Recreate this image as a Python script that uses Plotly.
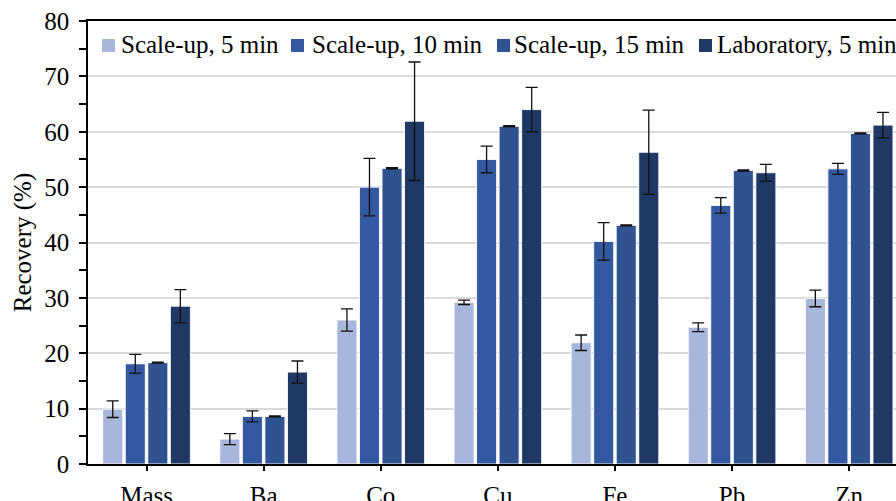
import plotly.graph_objects as go

categories = ["Mass", "Ba", "Co", "Cu", "Fe", "Pb", "Zn"]
series_names = ["Scale-up, 5 min", "Scale-up, 10 min", "Scale-up, 15 min", "Laboratory, 5 min"]

scaleup_5 = [9.9, 4.5, 26.0, 29.2, 21.9, 24.7, 29.9]
scaleup_5_err = [1.5, 1.0, 2.0, 0.4, 1.4, 0.8, 1.5]
scaleup_10 = [18.1, 8.6, 50.0, 55.0, 40.2, 46.7, 53.3]
scaleup_10_err = [1.7, 1.0, 5.2, 2.4, 3.4, 1.4, 1.0]
scaleup_15 = [18.3, 8.6, 53.4, 61.0, 43.1, 53.0, 59.7]
scaleup_15_err = [0.1, 0.1, 0.1, 0.1, 0.1, 0.1, 0.1]
laboratory_5 = [28.5, 16.6, 61.9, 64.0, 56.3, 52.6, 61.2]
laboratory_5_err = [3.0, 2.0, 10.7, 4.0, 7.6, 1.5, 2.3]

colors = ["#A9B6DB", "#3459A0", "#2F5290", "#203864"]
values = [scaleup_5, scaleup_10, scaleup_15, laboratory_5]
errors = [scaleup_5_err, scaleup_10_err, scaleup_15_err, laboratory_5_err]

FONT = "Liberation Serif, Times New Roman, serif"
FS = 25
W, H = 896, 501
L, R, T, B = 88, 0, 21, 37
PW, PH = W - L - R, H - T - B

def px_x(p):
    return (p - L) / PW

def px_y(p):
    return (H - B - p) / PH

fig = go.Figure()
for name, v, e, c in zip(series_names, values, errors, colors):
    fig.add_trace(go.Bar(
        x=categories, y=v, name=name,
        marker=dict(color=c, line=dict(color="rgba(255,255,255,0.9)", width=1)),
        error_y=dict(type="data", array=e, visible=True, color="#111111",
                     thickness=1.3, width=6),
        showlegend=False,
    ))

# manual legend (top, single row, clipped at the right like the reference)
sq_left = [102, 291, 497, 699]
txt_left = [119, 310, 512, 715]
shapes = []
annotations = []
for name, c, sx, tx in zip(series_names, colors, sq_left, txt_left):
    shapes.append(dict(type="rect", xref="paper", yref="paper",
                       x0=px_x(sx), x1=px_x(sx + 13), y0=px_y(52), y1=px_y(39),
                       fillcolor=c, line=dict(width=0), layer="above"))
    annotations.append(dict(text=name, xref="paper", yref="paper",
                            x=px_x(tx), y=px_y(45), xanchor="left", yanchor="middle",
                            showarrow=False, font=dict(family=FONT, size=FS, color="black")))

fig.update_layout(
    width=W, height=H,
    margin=dict(l=L, r=R, t=T, b=B, pad=0, autoexpand=False),
    paper_bgcolor="white", plot_bgcolor="white",
    barmode="group", bargap=0.23, bargroupgap=0.11,
    font=dict(family=FONT, size=FS, color="black"),
    shapes=shapes, annotations=annotations,
    xaxis=dict(
        range=[-0.5, 6.40], showline=True, linecolor="black", linewidth=1.5,
        mirror=True, ticks="outside", ticklen=5, tickcolor="black", tickwidth=1.5,
        tickfont=dict(family=FONT, size=FS, color="black"),
        ticklabelstandoff=3, automargin=False,
        showgrid=False, zeroline=False,
    ),
    yaxis=dict(
        range=[0, 80], dtick=10, showgrid=True, gridcolor="#d9d9d9", gridwidth=1.5,
        showline=True, linecolor="black", linewidth=1.5,
        ticks="outside", ticklen=7, tickcolor="black", tickwidth=1.5,
        minor=dict(dtick=5, ticks="outside", ticklen=7, tickcolor="black",
                   tickwidth=1.5, showgrid=False),
        zeroline=False, automargin=False,
        tickfont=dict(family=FONT, size=FS, color="black"),
        ticklabelstandoff=5,
        title=dict(text="Recovery (%)", font=dict(family=FONT, size=FS, color="black"),
                   standoff=6),
    ),
)

fig.write_html("out.html")
